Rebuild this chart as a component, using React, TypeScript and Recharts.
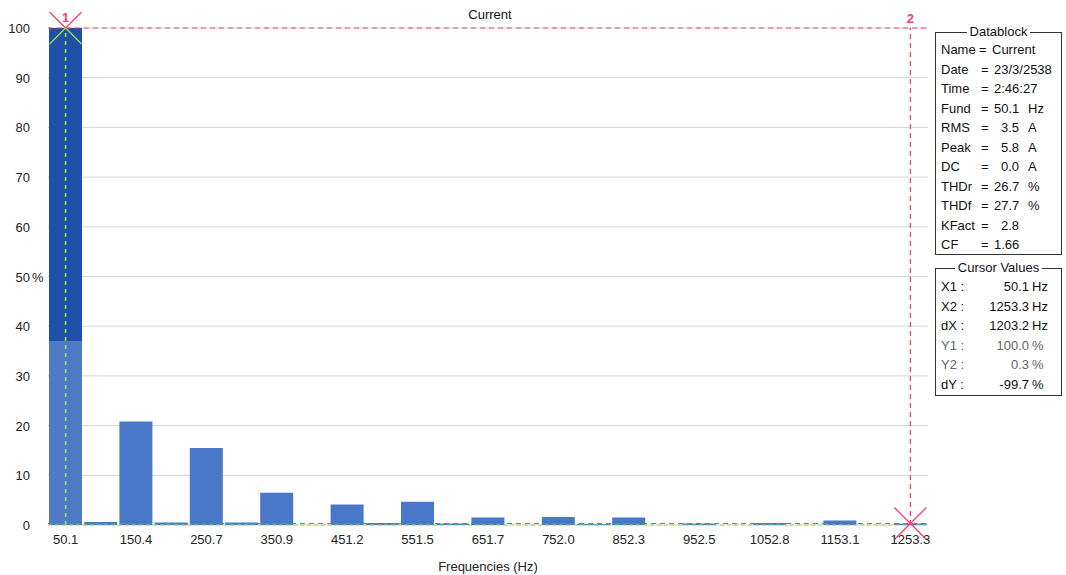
import React from "react";
import {
  BarChart,
  Bar,
  Cell,
  CartesianGrid,
  XAxis,
  YAxis,
  ReferenceLine,
  ReferenceDot,
  Label,
} from "recharts";

// harmonic frequencies (Hz), fundamental through the 25th
const frequencies = [
  "50.1", "100.3", "150.4", "200.5", "250.7", "300.8", "350.9", "401.1", "451.2",
  "501.3", "551.5", "601.6", "651.7", "701.9", "752.0", "802.1", "852.3", "902.4",
  "952.5", "1002.7", "1052.8", "1102.9", "1153.1", "1203.2", "1253.3",
];

// amplitude of each harmonic, % of fundamental
const amplitudes = [
  100, 0.6, 20.8, 0.5, 15.5, 0.5, 6.5, 0, 4.1, 0.4, 4.7, 0.3, 1.5, 0, 1.6, 0.2,
  1.5, 0, 0.3, 0, 0.4, 0, 0.9, 0, 0.3,
];

const yTicks = [0, 10, 20, 30, 40, 50, 60, 70, 80, 90, 100];

const cursor1 = { x: "50.1", y: 100 };
const cursor2 = { x: "1253.3", y: 0.3 };

const datablock: [string, string, string][] = [
  ["Name", "Current", ""],
  ["Date", "23/3/2538", ""],
  ["Time", "2:46:27", ""],
  ["Fund", "50.1", "Hz"],
  ["RMS", "3.5", "A"],
  ["Peak", "5.8", "A"],
  ["DC", "0.0", "A"],
  ["THDr", "26.7", "%"],
  ["THDf", "27.7", "%"],
  ["KFact", "2.8", ""],
  ["CF", "1.66", ""],
];

const cursorValues: [string, string, string][] = [
  ["X1 :", "50.1", "Hz"],
  ["X2 :", "1253.3", "Hz"],
  ["dX :", "1203.2", "Hz"],
  ["Y1 :", "100.0", "%"],
  ["Y2 :", "0.3", "%"],
  ["dY :", "-99.7", "%"],
];

const data = frequencies.map((f, i) => ({ freq: f, value: amplitudes[i] }));

const FONT = "'Liberation Sans', Arial, sans-serif";
const RED = "#f0446a";
const GREEN = "#9be04a";
const BAR = "#4a78c8";

function YTick(props: any) {
  const { x, y, payload } = props;
  return (
    <g>
      <text x={x} y={y} dy={5} textAnchor="end" fontSize={13} fill="#222" fontFamily={FONT}>
        {payload.value}
      </text>
      {payload.value === 50 && (
        <text x={x + 2} y={y} dy={5} fontSize={13} fill="#222" fontFamily={FONT}>
          %
        </text>
      )}
    </g>
  );
}

function CrossMarker(props: any) {
  const { cx, cy, num, full } = props;
  const s = 16;
  return (
    <g>
      <line x1={cx - s} y1={cy - s} x2={cx} y2={cy} stroke={RED} strokeWidth={1.3} />
      <line x1={cx + s} y1={cy - s} x2={cx} y2={cy} stroke={RED} strokeWidth={1.3} />
      <line x1={cx} y1={cy} x2={cx - s} y2={cy + s} stroke={full ? RED : GREEN} strokeWidth={1.3} />
      <line x1={cx} y1={cy} x2={cx + s} y2={cy + s} stroke={full ? RED : GREEN} strokeWidth={1.3} />
      {num && (
        <text x={cx} y={cy - 6} textAnchor="middle" fontSize={13} fontWeight="bold" fill={RED} fontFamily={FONT}>
          {num}
        </text>
      )}
    </g>
  );
}

const boxStyle: React.CSSProperties = {
  position: "absolute",
  left: 935,
  width: 127,
  border: "1px solid #333",
  fontFamily: FONT,
  fontSize: 13,
  color: "#111",
  boxSizing: "border-box",
};

const boxTitle: React.CSSProperties = {
  position: "absolute",
  top: -9,
  left: 0,
  right: 0,
  textAlign: "center",
  lineHeight: "16px",
};

export default function App() {
  return (
    <div style={{ position: "absolute", left: 0, top: 0, width: 1066, height: 575, background: "#fff" }}>
      <div
        style={{
          position: "absolute",
          left: 390,
          width: 200,
          top: 7,
          textAlign: "center",
          fontFamily: FONT,
          fontSize: 13,
          color: "#111",
        }}
      >
        Current
      </div>
      <BarChart
        width={1066}
        height={575}
        data={data}
        margin={{ top: 28, right: 138, left: 8, bottom: 4 }}
        barCategoryGap={1}
      >
        <defs>
          <linearGradient id="fundFill" x1="0" y1="0" x2="0" y2="1">
            <stop offset="0" stopColor="#1f4fa8" />
            <stop offset="0.63" stopColor="#1f4fa8" />
            <stop offset="0.63" stopColor="#4f7bc6" />
            <stop offset="1" stopColor="#4f7bc6" />
          </linearGradient>
        </defs>
        <CartesianGrid vertical={false} stroke="#d4d4d4" />
        <XAxis
          dataKey="freq"
          interval={1}
          axisLine={false}
          tickLine={false}
          tickSize={0}
          tickMargin={10}
          height={46}
          tick={{ fontSize: 13, fill: "#222", fontFamily: FONT }}
        >
          <Label
            value="Frequencies (Hz)"
            position="insideBottom"
            offset={0}
            style={{ fontSize: 13, fill: "#222", fontFamily: FONT }}
          />
        </XAxis>
        <YAxis
          domain={[0, 100]}
          ticks={yTicks}
          width={40}
          axisLine={false}
          tickLine={false}
          tickSize={0}
          tickMargin={18}
          tick={<YTick />}
        />
        <YAxis
          yAxisId="frame"
          orientation="right"
          width={0}
          domain={[0, 100]}
          tick={false}
          tickLine={false}
          axisLine={{ stroke: "#b8b8b8" }}
        />
        <Bar dataKey="value" isAnimationActive={false}>
          {data.map((d, i) => (
            <Cell key={d.freq} fill={i === 0 ? "url(#fundFill)" : BAR} />
          ))}
        </Bar>
        <ReferenceLine y={0} stroke={GREEN} strokeDasharray="4 3" />
        <ReferenceLine y={cursor2.y} stroke={RED} strokeDasharray="5 4" />
        <ReferenceLine y={cursor1.y} stroke={RED} strokeDasharray="5 4" />
        <ReferenceLine x={cursor1.x} stroke={GREEN} strokeDasharray="4 4" strokeWidth={1.6} />
        <ReferenceLine
          x={cursor2.x}
          stroke={RED}
          strokeDasharray="5 4"
          strokeWidth={1.3}
          label={{ value: "2", position: "top", fill: RED, fontSize: 13, fontWeight: "bold", fontFamily: FONT }}
        />
        <ReferenceDot
          x={cursor1.x}
          y={cursor1.y}
          ifOverflow="visible"
          shape={(p: any) => <CrossMarker {...p} num="1" />}
        />
        <ReferenceDot
          x={cursor2.x}
          y={cursor2.y}
          ifOverflow="visible"
          shape={(p: any) => <CrossMarker {...p} full />}
        />
      </BarChart>

      <div style={{ ...boxStyle, top: 32, height: 223, padding: "7px 0 0 5px" }}>
        <div style={boxTitle}>
          <span style={{ background: "#fff", padding: "0 3px" }}>Datablock</span>
        </div>
        {datablock.map(([k, v, u]) => (
          <div key={k} style={{ display: "flex", height: 19.5, lineHeight: "19.5px", whiteSpace: "nowrap" }}>
            <span style={{ width: k === "Name" ? 38 : 40 }}>{k}</span>
            <span style={{ width: 13 }}>=</span>
            {u || k === "KFact" || k === "CF" ? (
              <>
                <span style={{ width: 25, textAlign: "right" }}>{v}</span>
                <span style={{ marginLeft: 9 }}>{u}</span>
              </>
            ) : (
              <span>{v}</span>
            )}
          </div>
        ))}
      </div>

      <div style={{ ...boxStyle, top: 268, height: 128, padding: "8px 0 0 5px" }}>
        <div style={boxTitle}>
          <span style={{ background: "#fff", padding: "0 3px" }}>Cursor Values</span>
        </div>
        {cursorValues.map(([k, v, u]) => (
          <div
            key={k}
            style={{
              display: "flex",
              height: 19.5,
              lineHeight: "19.5px",
              whiteSpace: "nowrap",
              color: k.startsWith("Y") ? "#666" : "#111",
            }}
          >
            <span style={{ width: 28 }}>{k}</span>
            <span style={{ width: 60, textAlign: "right" }}>{v}</span>
            <span style={{ marginLeft: 3 }}>{u}</span>
          </div>
        ))}
      </div>
    </div>
  );
}
